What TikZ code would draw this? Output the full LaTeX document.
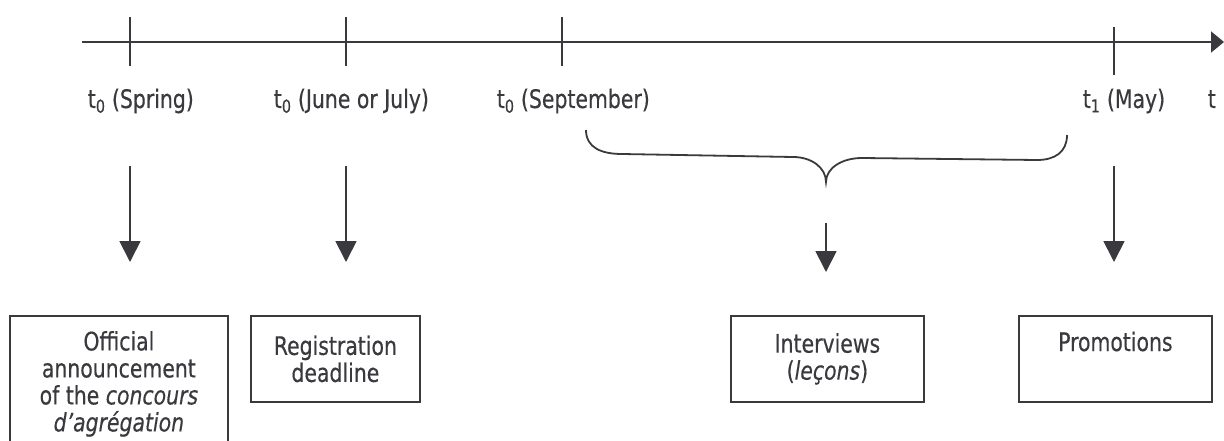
\documentclass[tikz,border=0pt]{standalone}
\usepackage{fontspec}
\setmainfont[FakeStretch=0.89,FakeBold=0.4]{DejaVu Sans Condensed}
\usetikzlibrary{arrows.meta}
\definecolor{ink}{RGB}{58,58,62}
\begin{document}
\begin{tikzpicture}[x=1pt,y=-1pt,
  line width=1.8pt, draw=ink, text=ink,
  every node/.style={font=\fontsize{25.5}{27}\selectfont},
  lbl/.style={anchor=base west, inner sep=0pt},
  evbox/.style={draw=ink, line width=1.8pt, align=center, anchor=north west, inner sep=0pt},
  darrow/.style={-{Triangle[length=21pt,width=21pt]}, line width=1.8pt},
]
\useasboundingbox (0,0) rectangle (1224,441);
% axis
\coordinate (ax0) at (82,42);
\coordinate (ax1) at (1224,42);
\draw[-{Triangle[length=13pt,width=21pt]}] (ax0) -- (ax1);
% ticks
\coordinate (k1a) at (130,17); \coordinate (k1b) at (130,66);
\coordinate (k2a) at (346,17); \coordinate (k2b) at (346,66);
\coordinate (k3a) at (562,17); \coordinate (k3b) at (562,66);
\coordinate (k4a) at (1114,27); \coordinate (k4b) at (1114,75);
\draw (k1a) -- (k1b);
\draw (k2a) -- (k2b);
\draw (k3a) -- (k3b);
\draw (k4a) -- (k4b);
% labels
\node[lbl] (l1) at (87,108) {t\textsubscript{0} (Spring)};
\node[lbl] (l2) at (273,108) {t\textsubscript{0} (June or July)};
\node[lbl] (l3) at (496,108) {t\textsubscript{0} (September)};
\node[lbl] (l4) at (1082,108) {t\textsubscript{1} (May)};
\node[lbl] (l5) at (1207,108) {t};
% brace
\coordinate (bL) at (586,130);
\coordinate (bT) at (826,182);
\coordinate (bR) at (1067,135);
\draw (bL) .. controls (586,148) and (602,154) .. (622,154)
  -- (793,157) .. controls (812,157) and (826,168) .. (bT)
  .. controls (826,168) and (842,158) .. (862,158)
  -- (1037,160) .. controls (1055,160) and (1067,152) .. (bR);
% boxes
\node[evbox, minimum width=218pt, minimum height=136pt] (b1) at (9,315)
  {Official\\announcement\\of the \textit{concours}\\\textit{d’agrégation}};
\node[evbox, minimum width=169pt, minimum height=86pt] (b2) at (250,315)
  {Registration\\deadline};
\node[evbox, minimum width=193pt, minimum height=86pt] (b3) at (730,315)
  {Interviews\\(\textit{leçons})};
\node[evbox, minimum width=193pt, minimum height=86pt] (b4) at (1018,315)
  {Promotions\\\strut};
% arrows
\coordinate (a1s) at (130,166); \coordinate (a1e) at (130,262);
\coordinate (a2s) at (346,166); \coordinate (a2e) at (346,262);
\coordinate (a3s) at (826,223); \coordinate (a3e) at (826,272);
\coordinate (a4s) at (1114,166); \coordinate (a4e) at (1114,262);
\draw[darrow] (a1s) -- (a1e);
\draw[darrow] (a2s) -- (a2e);
\draw[darrow] (a3s) -- (a3e);
\draw[darrow] (a4s) -- (a4e);
\end{tikzpicture}
\end{document}
